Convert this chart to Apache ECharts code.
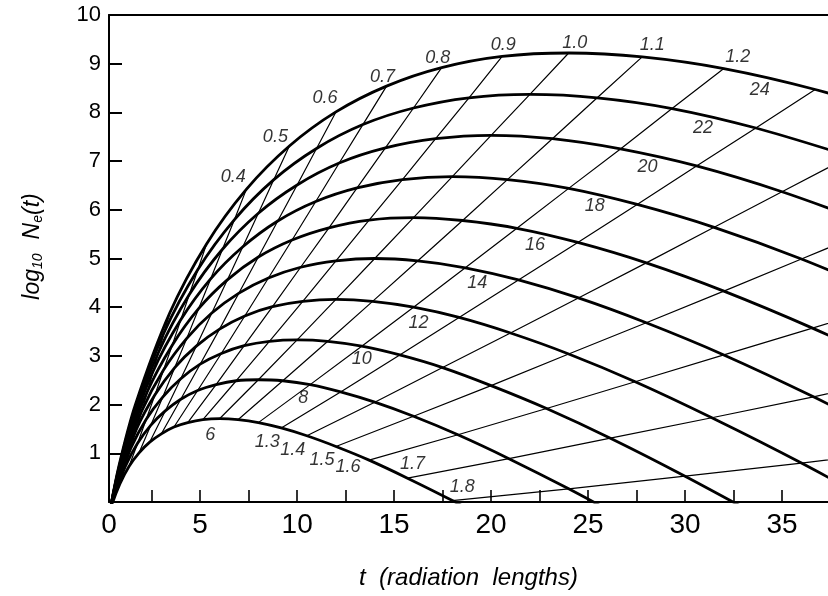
<!DOCTYPE html>
<html><head><meta charset="utf-8">
<script src="https://cdn.jsdelivr.net/npm/echarts@6/dist/echarts.min.js"></script>
<style>html,body{margin:0;padding:0;background:#fff}#c{width:828px;height:596px}</style>
</head><body><div id="c"></div>
<script>
// Age parameter s at which each curve point is listed (same order in every curve)
const sGrid = [0.02,0.05,0.1,0.2,0.3,0.4,0.5,0.6,0.7,0.8,0.9,1.0,1.1,1.2,1.3,1.4,1.5,1.6,1.7,1.8,1.9];
// Curve labels (ln E0/eps)
const curveLabels = [6,8,10,12,14,16,18,20,22,24];
// [t, log10 Ne]
const curve6 = [[0.08,-0.66],[0.20,-0.41],[0.41,-0.10],[0.86,0.37],[1.33,0.73],[1.85,1.01],[2.40,1.23],[3.00,1.40],[3.65,1.54],[4.36,1.63],[5.14,1.69],[6.00,1.71],[6.95,1.69],[8.00,1.63],[9.18,1.52],[10.50,1.36],[12.00,1.14],[13.71,0.86],[15.69,0.49],[18.00,0.03],[20.73,-0.56]];
const curve8 = [[0.11,-0.64],[0.27,-0.31],[0.55,0.11],[1.14,0.73],[1.78,1.21],[2.46,1.58],[3.20,1.87],[4.00,2.11],[4.87,2.29],[5.82,2.41],[6.86,2.49],[8.00,2.51],[9.26,2.49],[10.67,2.41],[12.24,2.26],[14.00,2.05],[16.00,1.76],[18.29,1.38],[20.92,0.89],[24.00,0.27],[27.64,-0.51]];
const curve10 = [[0.13,-0.61],[0.34,-0.20],[0.69,0.33],[1.43,1.11],[2.22,1.70],[3.08,2.16],[4.00,2.53],[5.00,2.83],[6.09,3.05],[7.27,3.21],[8.57,3.30],[10.00,3.33],[11.58,3.30],[13.33,3.20],[15.29,3.02],[17.50,2.76],[20.00,2.39],[22.86,1.92],[26.15,1.31],[30.00,0.53],[34.55,-0.45]];
const curve12 = [[0.16,-0.57],[0.41,-0.08],[0.83,0.55],[1.71,1.49],[2.67,2.20],[3.69,2.76],[4.80,3.20],[6.00,3.55],[7.30,3.82],[8.73,4.01],[10.29,4.12],[12.00,4.16],[13.89,4.12],[16.00,4.00],[18.35,3.79],[21.00,3.47],[24.00,3.04],[27.43,2.47],[31.38,1.73],[36.00,0.80],[41.45,-0.38]];
const curve14 = [[0.19,-0.52],[0.47,0.05],[0.97,0.79],[2.00,1.88],[3.11,2.71],[4.31,3.36],[5.60,3.88],[7.00,4.29],[8.52,4.60],[10.18,4.82],[12.00,4.95],[14.00,5.00],[16.21,4.95],[18.67,4.81],[21.41,4.56],[24.50,4.19],[28.00,3.68],[32.00,3.02],[36.62,2.16],[42.00,1.08]];
const curve16 = [[0.21,-0.47],[0.54,0.18],[1.10,1.02],[2.29,2.28],[3.56,3.22],[4.92,3.97],[6.40,4.56],[8.00,5.03],[9.74,5.38],[11.64,5.63],[13.71,5.79],[16.00,5.84],[18.53,5.78],[21.33,5.62],[24.47,5.33],[28.00,4.91],[32.00,4.33],[36.57,3.57],[41.85,2.60]];
const curve18 = [[0.24,-0.42],[0.61,0.32],[1.24,1.26],[2.57,2.68],[4.00,3.74],[5.54,4.58],[7.20,5.24],[9.00,5.77],[10.96,6.17],[13.09,6.45],[15.43,6.62],[18.00,6.68],[20.84,6.62],[24.00,6.44],[27.53,6.11],[31.50,5.64],[36.00,4.99],[41.14,4.13]];
const curve20 = [[0.27,-0.36],[0.68,0.46],[1.38,1.51],[2.86,3.08],[4.44,4.26],[6.15,5.19],[8.00,5.93],[10.00,6.51],[12.17,6.96],[14.55,7.27],[17.14,7.46],[20.00,7.53],[23.16,7.46],[26.67,7.25],[30.59,6.90],[35.00,6.37],[40.00,5.65]];
const curve22 = [[0.30,-0.30],[0.75,0.60],[1.52,1.75],[3.14,3.48],[4.89,4.78],[6.77,5.80],[8.80,6.62],[11.00,7.26],[13.39,7.75],[16.00,8.09],[18.86,8.30],[22.00,8.37],[25.47,8.30],[29.33,8.08],[33.65,7.68],[38.50,7.10]];
const curve24 = [[0.32,-0.24],[0.81,0.74],[1.66,2.00],[3.43,3.88],[5.33,5.30],[7.38,6.42],[9.60,7.31],[12.00,8.01],[14.61,8.54],[17.45,8.92],[20.57,9.15],[24.00,9.22],[27.79,9.14],[32.00,8.90],[36.71,8.47],[42.00,7.84]];
// Constant-age lines drawn and labelled
const ageLines = [0.2,0.3,0.4,0.5,0.6,0.7,0.8,0.9,1.0,1.1,1.2,1.3,1.4,1.5,1.6,1.7,1.8];
const ageLabels = [0.4,0.5,0.6,0.7,0.8,0.9,1.0,1.1,1.2,1.3,1.4,1.5,1.6,1.7,1.8];
// Tick labels
const xTickLabels = [0,5,10,15,20,25,30,35];
const xTickMarks = [2.5,5,7.5,10,12.5,15,17.5,20,22.5,25,27.5,30,32.5,35];
const yTickLabels = [1,2,3,4,5,6,7,8,9,10];

// ---- styling / layout (not data) ----
const X_MIN = 0.3, X_MAX = 37.37;
const FONT = "'Liberation Sans Narrow','Liberation Sans',sans-serif";
const ageLabelOffsets = [[-13,-12],[-14,-9],[-11,-14],[-4,-9],[-4,-10],[1,-11],[6,-10],[10,-12],[14,-12],[-14,14],[-14,14],[-14,14],[-21,7],[5,-14],[10,-14]];
const curveLabelOffsets = [[-48,12],[-7,13],[0,13],[5,16],[12,15],[18,17],[26,18],[27,18],[31,19],[36,21]];

const curves = [curve6,curve8,curve10,curve12,curve14,curve16,curve18,curve20,curve22,curve24];
const idxOf = s => sGrid.findIndex(v => Math.abs(v - s) < 1e-9);

const series = [];
curves.forEach((d,i) => series.push({
  type:'line', name:'c'+curveLabels[i], data:d, symbol:'none', smooth:0.3,
  lineStyle:{color:'#000', width:2.8}, z:3, silent:true, animation:false
}));
ageLines.forEach(s => {
  const i = idxOf(s);
  const pts = curves.map(c => c[i]).filter(Boolean);
  series.push({type:'line', data:pts, symbol:'none', smooth:false,
    lineStyle:{color:'#000', width:1.2}, z:2, silent:true, animation:false});
});
const labelData = [];
ageLabels.forEach((s,k) => {
  const i = idxOf(s);
  const p = s <= 1.2 ? curve24[i] : curve6[i];
  labelData.push({value:p, name:s.toFixed(1), label:{offset:ageLabelOffsets[k]}});
});
const i12 = idxOf(1.2);
curves.forEach((c,k) => {
  labelData.push({value:c[i12], name:String(curveLabels[k]), label:{offset:curveLabelOffsets[k]}});
});
series.push({type:'scatter', data:labelData, symbolSize:1, itemStyle:{color:'rgba(0,0,0,0)'},
  label:{show:true, position:'inside', formatter:p => p.name, color:'#000', fontSize:18,
    fontStyle:'italic', fontFamily:FONT, align:'center', verticalAlign:'middle'},
  z:5, silent:true, animation:false, clip:false});

const chart = echarts.init(document.getElementById('c'));
chart.setOption({
  animation:false,
  backgroundColor:'#fff',
  grid:{left:109, right:0, top:15, bottom:94},
  xAxis:[{
    type:'value', min:X_MIN, max:X_MAX,
    axisLine:{show:true, lineStyle:{color:'#000', width:2}},
    axisTick:{show:true, inside:true, length:12, lineStyle:{color:'#000', width:1.6},
      customValues:xTickMarks},
    axisLabel:{show:true, color:'#000', fontSize:28, fontFamily:FONT, margin:9,
      customValues:xTickLabels.map(v => v === 0 ? X_MIN : v),
      formatter:v => v < 1 ? '0' : String(v), showMinLabel:true},
    splitLine:{show:false},
    name:'t  (radiation  lengths)', nameLocation:'middle', nameGap:64,
    nameTextStyle:{color:'#000', fontSize:24, fontStyle:'italic', fontFamily:FONT}
  },{
    type:'value', position:'top', min:X_MIN, max:X_MAX,
    axisLine:{show:true, onZero:false, lineStyle:{color:'#000', width:2}},
    axisTick:{show:false}, axisLabel:{show:false}, splitLine:{show:false}
  }],
  yAxis:{
    type:'value', min:0, max:10, interval:1,
    axisLine:{show:true, lineStyle:{color:'#000', width:2}},
    axisTick:{show:true, inside:true, length:13, lineStyle:{color:'#000', width:2}},
    axisLabel:{color:'#000', fontSize:22, fontFamily:FONT, margin:8,
      formatter:v => yTickLabels.indexOf(v) >= 0 ? String(v) : ''},
    splitLine:{show:false},
    name:'{n|log}{s|10}{sp|}{n|N}{s|e}{n|(t)}', nameLocation:'middle', nameGap:64, nameRotate:90,
    nameTextStyle:{color:'#000', fontFamily:FONT, padding:[0,0,0,24],
      rich:{n:{fontSize:23, fontStyle:'italic', fontFamily:FONT, color:'#000'},
            sp:{width:14},
            s:{fontSize:14, fontStyle:'italic', fontFamily:FONT, color:'#000', padding:[10,0,0,0]}}}
  },
  series:series
});
</script></body></html>
